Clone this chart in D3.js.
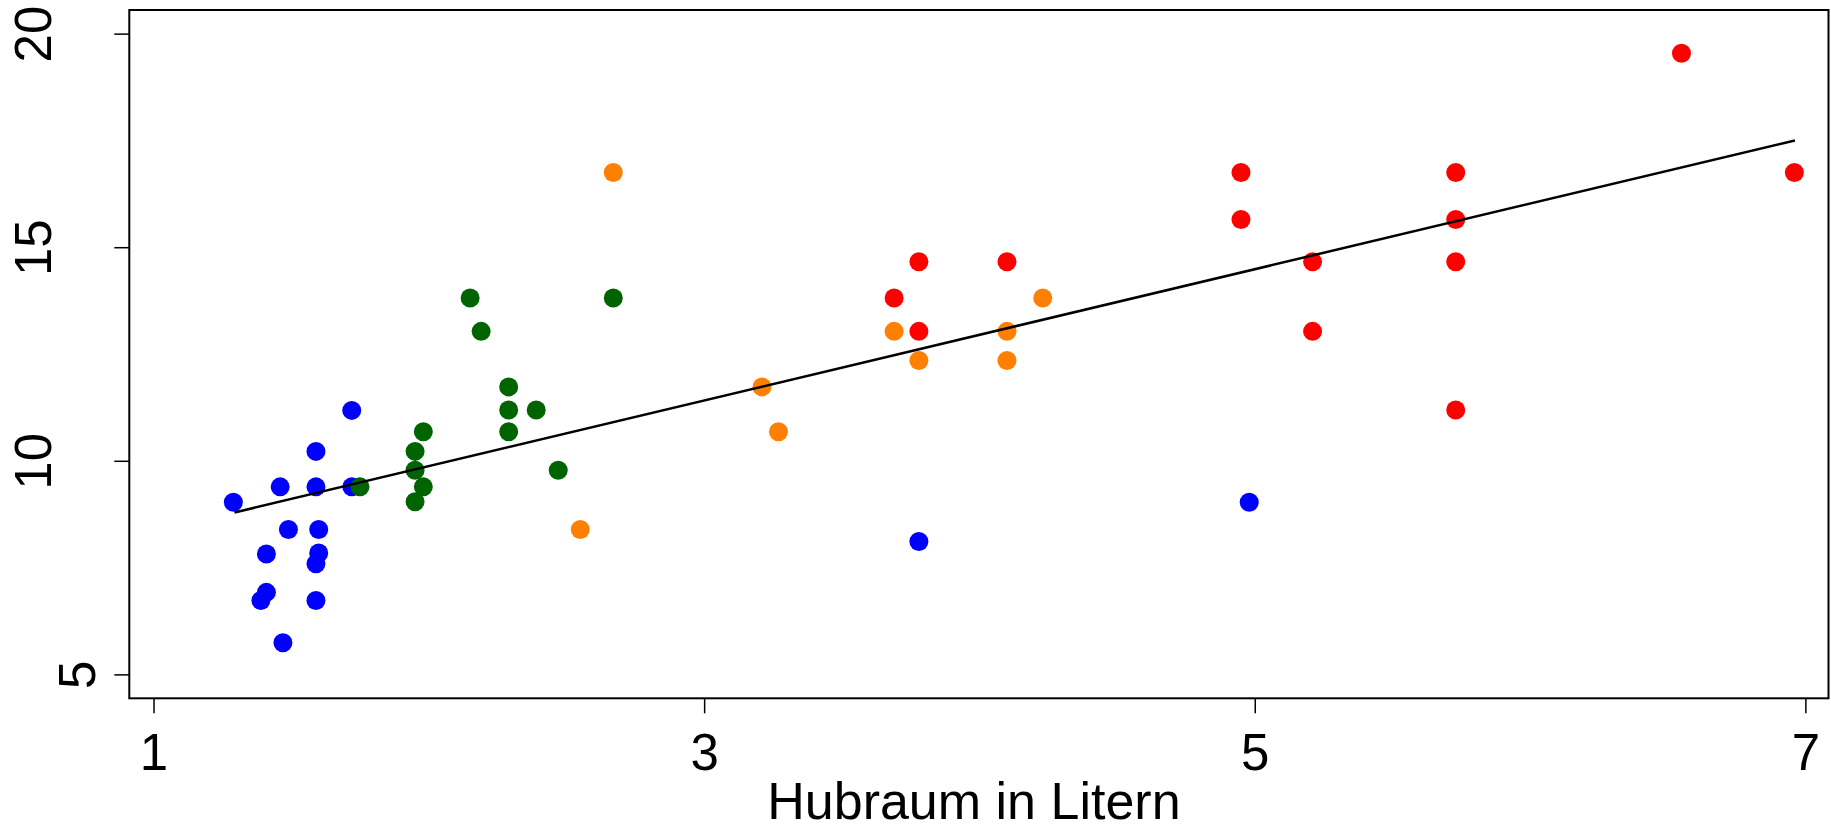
<!DOCTYPE html>
<html>
<head>
<meta charset="utf-8">
<script src="https://cdn.jsdelivr.net/npm/d3@7"></script>
<style>
  body { margin: 0; background: #fff; }
  text { font-family: "Liberation Sans", Arial, sans-serif; fill: #000; }
</style>
</head>
<body>
<div class="canvas"></div>
<script>

//VIZ DIMENSIONS
var w = 1831;
var h = 829;
var margin = { left: 129.3, top: 10, right: 2.5, bottom: 130.7 };
var width = w - margin.left - margin.right;
var height = h - margin.top - margin.bottom;

//DATA
var hubraumBlau  = [1.29, 1.46, 1.59, 1.72, 1.59, 1.72, 1.49, 1.60, 1.41, 1.60, 1.59, 1.41, 1.39, 1.59, 1.47, 3.78, 4.98];
var verbrBlau    = [9.03, 9.39, 9.39, 9.39, 10.22, 11.18, 8.39, 8.39, 7.82, 7.84, 7.59, 6.92, 6.73, 6.73, 5.74, 8.11, 9.03];

var hubraumGruen = [2.15, 2.19, 2.29, 2.29, 2.39, 2.29, 1.98, 1.95, 1.95, 1.98, 1.95, 1.75, 2.47, 2.67];
var verbrGruen   = [13.81, 13.03, 11.73, 11.19, 11.19, 10.68, 10.68, 10.22, 9.78, 9.39, 9.04, 9.39, 9.78, 13.81];

var hubraumOrange = [2.67, 2.55, 3.21, 3.27, 3.69, 3.78, 4.10, 4.10, 4.23];
var verbrOrange   = [16.75, 8.39, 11.73, 10.68, 13.03, 12.35, 13.03, 12.35, 13.81];

var hubraumRot = [3.69, 3.78, 3.78, 4.10, 4.95, 4.95, 5.21, 5.21, 5.73, 5.73, 5.73, 5.73, 6.55, 6.96];
var verbrRot   = [13.81, 14.66, 13.03, 14.66, 16.75, 15.65, 14.66, 13.03, 16.75, 15.65, 14.66, 11.19, 19.54, 16.75];

//REGRESSION LINE ENDPOINTS
var fitX = [1.294, 6.962];
var fitY = [8.79, 17.50];

//TICKS
var xTicks = [1, 3, 5, 7];
var yTicks = [5, 10, 15, 20];
var xTitle = 'Hubraum in Litern';

var gruppen = [
    { farbe: '#0000ff', x: hubraumBlau, y: verbrBlau },
    { farbe: '#006400', x: hubraumGruen, y: verbrGruen },
    { farbe: '#ff8000', x: hubraumOrange, y: verbrOrange },
    { farbe: '#ff0000', x: hubraumRot, y: verbrRot }
];

//SET THE SVG
var svg = d3.select('.canvas').append('svg')
    .attr('width', w)
    .attr('height', h);

var g = svg.append('g')
    .attr('transform', 'translate(' + margin.left + ',' + margin.top + ')');

//SCALES
var x = d3.scaleLinear().domain([0.912, 7.084]).range([0, width]);
var y = d3.scaleLinear().domain([4.44, 20.553]).range([height, 0]);

//X AXIS
var xAxis = g.append('g')
    .attr('transform', 'translate(0,' + height + ')')
    .call(d3.axisBottom(x).tickValues(xTicks).tickSize(15).tickFormat(d3.format('d')));
xAxis.select('.domain').remove();
xAxis.selectAll('line').attr('stroke-width', 1.5);
xAxis.selectAll('text')
    .attr('y', 72)
    .attr('dy', 0)
    .attr('font-size', 51)
    .attr('font-family', '"Liberation Sans", Arial, sans-serif');

//Y AXIS (labels rotated)
var yAxis = g.append('g')
    .call(d3.axisLeft(y).tickValues(yTicks).tickSize(15).tickFormat(d3.format('d')));
yAxis.select('.domain').remove();
yAxis.selectAll('line').attr('stroke-width', 1.5);
yAxis.selectAll('text')
    .attr('transform', 'rotate(-90)')
    .attr('text-anchor', 'middle')
    .attr('x', 0)
    .attr('dy', 0)
    .attr('y', d => d < 10 ? -34.5 : -78)
    .attr('font-size', 51)
    .attr('font-family', '"Liberation Sans", Arial, sans-serif');

//AXIS TITLE
g.append('text')
    .attr('x', width / 2 - 5)
    .attr('y', height + 120.5)
    .attr('text-anchor', 'middle')
    .attr('font-size', 52)
    .text(xTitle);

//POINTS
gruppen.forEach(gr => {
    g.append('g')
        .selectAll('circle')
        .data(gr.x.map((v, i) => [v, gr.y[i]]))
        .enter().append('circle')
            .attr('cx', d => x(d[0]))
            .attr('cy', d => y(d[1]))
            .attr('r', 9.5)
            .attr('fill', gr.farbe);
});

//REGRESSION LINE
g.append('line')
    .attr('x1', x(fitX[0]))
    .attr('y1', y(fitY[0]))
    .attr('x2', x(fitX[1]))
    .attr('y2', y(fitY[1]))
    .attr('stroke', '#000')
    .attr('stroke-width', 2.5);

//FRAME
g.append('rect')
    .attr('x', 0)
    .attr('y', 0)
    .attr('width', width)
    .attr('height', height)
    .attr('fill', 'none')
    .attr('stroke', '#000')
    .attr('stroke-width', 2);

</script>
</body>
</html>
